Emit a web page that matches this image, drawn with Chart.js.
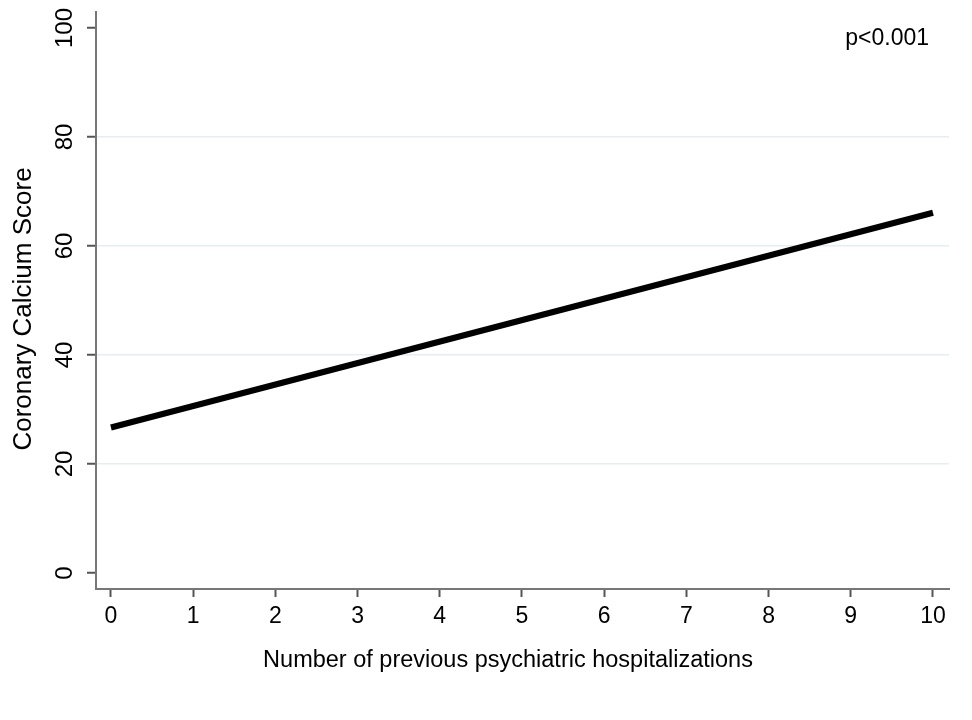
<!DOCTYPE html>
<html>
<head>
<meta charset="utf-8">
<script src="https://cdn.jsdelivr.net/npm/chart.js@4"></script>
<style>
  html, body { margin: 0; padding: 0; background: #fff; }
  canvas { display: block; }
</style>
</head>
<body>
<canvas id="ccsChart" width="972" height="720"></canvas>
<script>
// fitted line: hospitalizations -> calcium score
var hospitalizations = [0, 10];
var calciumScore = [26.7, 66.1];
var xTicks = [0, 1, 2, 3, 4, 5, 6, 7, 8, 9, 10];
var yTicks = [0, 20, 40, 60, 80, 100];
var xTitle = "Number of previous psychiatric hospitalizations";
var yTitle = "Coronary Calcium Score";
var pLabel = "p<0.001";

var FONT = "'Liberation Sans', Arial, Helvetica, sans-serif";

var points = [];
for (var i = 0; i < hospitalizations.length; i++) {
    points.push({ x: hospitalizations[i], y: calciumScore[i] });
}

// axis titles and p value drawn by hand (their centres are off the plot centre)
var extraText = {
    id: 'extraText',
    afterDraw: function (chart) {
        var c = chart.ctx;
        c.save();
        c.fillStyle = "#000";
        c.textBaseline = "middle";

        c.font = "23px " + FONT;
        c.textAlign = "right";
        c.textBaseline = "alphabetic";
        c.fillText(pLabel, 929, 45);

        c.font = "23.5px " + FONT;
        c.textAlign = "center";
        c.textBaseline = "middle";
        c.fillText(xTitle, 508, 661);

        c.translate(24, 309);
        c.rotate(-Math.PI / 2);
        c.font = "26px " + FONT;
        c.fillText(yTitle, 0, 0);
        c.restore();
    }
};

var ctx = document.getElementById("ccsChart");
var ccsChart = new Chart(ctx, {
    type: 'line',
    data: {
        datasets: [{
            data: points,
            borderColor: "#000",
            borderWidth: 6,
            pointRadius: 0,
            fill: false,
            tension: 0
        }]
    },
    options: {
        responsive: false,
        animation: false,
        devicePixelRatio: 1,
        layout: { padding: { top: 12, right: 23, bottom: 0, left: 0 } },
        plugins: {
            legend: { display: false },
            tooltip: { enabled: false }
        },
        scales: {
            x: {
                type: 'linear',
                min: -0.182,
                max: 10.195,
                afterBuildTicks: function (s) {
                    s.ticks = xTicks.map(function (v) { return { value: v }; });
                },
                afterFit: function (s) {
                    s.height = 131;
                    s.paddingLeft = 0;
                    s.paddingRight = 0;
                },
                border: { color: "#777", width: 2 },
                grid: {
                    drawOnChartArea: false,
                    drawTicks: true,
                    tickLength: 8,
                    tickColor: "#555",
                    tickWidth: 2
                },
                ticks: {
                    color: "#000",
                    font: { family: FONT, size: 23 },
                    padding: 6,
                    maxRotation: 0,
                    autoSkip: false
                }
            },
            y: {
                type: 'linear',
                min: -2.94,
                max: 102.94,
                afterBuildTicks: function (s) {
                    s.ticks = yTicks.map(function (v) { return { value: v }; });
                },
                afterFit: function (s) {
                    s.width = 96;
                    s.paddingTop = 0;
                    s.paddingBottom = 0;
                },
                border: { color: "#777", width: 2 },
                grid: {
                    color: function (c) {
                        var v = c.tick ? c.tick.value : null;
                        return (v === 0 || v === 100) ? "rgba(0,0,0,0)" : "#e6eef1";
                    },
                    lineWidth: 1.5,
                    drawTicks: true,
                    tickLength: 9,
                    tickColor: "#555",
                    tickWidth: 2
                },
                ticks: {
                    color: "#000",
                    font: { family: FONT, size: 24 },
                    padding: 2,
                    minRotation: 90,
                    maxRotation: 90,
                    crossAlign: 'center',
                    autoSkip: false
                }
            }
        }
    },
    plugins: [extraText]
});
</script>
</body>
</html>
